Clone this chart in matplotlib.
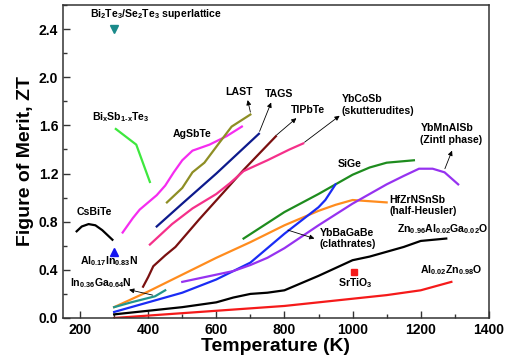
import matplotlib
matplotlib.use("Agg")
import matplotlib.pyplot as plt
from matplotlib.ticker import MultipleLocator

plt.rcParams['font.family'] = ['Liberation Sans', 'DejaVu Sans']
plt.rcParams['font.weight'] = 'bold'
plt.rcParams['mathtext.fontset'] = 'custom'
plt.rcParams['mathtext.rm'] = 'Liberation Sans:bold'
plt.rcParams['mathtext.it'] = 'Liberation Sans:bold'
plt.rcParams['mathtext.bf'] = 'Liberation Sans:bold'
plt.rcParams['mathtext.default'] = 'bf'

# ---- data (Temperature K, ZT) ----
bisbte_T = [305, 365, 405]
bisbte_ZT = [1.57, 1.44, 1.13]

csbite_T = [190, 205, 225, 245, 265, 280, 295]
csbite_ZT = [0.72, 0.76, 0.78, 0.77, 0.73, 0.69, 0.65]

agsbte_T = [325, 355, 375, 400, 425, 450, 475, 500, 530, 580, 630, 675]
agsbte_ZT = [0.71, 0.83, 0.90, 0.96, 1.02, 1.10, 1.21, 1.31, 1.39, 1.44, 1.51, 1.59]

last_T = [455, 500, 530, 565, 610, 645, 700]
last_ZT = [0.96, 1.08, 1.21, 1.29, 1.46, 1.59, 1.69]

tags_T = [425, 500, 600, 725]
tags_ZT = [0.76, 0.95, 1.20, 1.53]

tlpbte_T = [385, 400, 415, 450, 480, 550, 620, 680, 775]
tlpbte_ZT = [0.26, 0.34, 0.43, 0.52, 0.59, 0.82, 1.04, 1.23, 1.51]

ybcosb_T = [405, 470, 530, 600, 640, 680, 750, 815, 855]
ybcosb_ZT = [0.61, 0.78, 0.91, 1.03, 1.12, 1.22, 1.31, 1.40, 1.45]

sige_T = [680, 740, 800, 900, 950, 1000, 1050, 1100, 1180]
sige_ZT = [0.66, 0.77, 0.88, 1.03, 1.11, 1.19, 1.25, 1.29, 1.31]

zintl_T = [500, 550, 600, 650, 700, 750, 800, 900, 1000, 1100, 1150, 1195, 1235, 1270, 1310]
zintl_ZT = [0.30, 0.33, 0.36, 0.39, 0.44, 0.50, 0.58, 0.77, 0.95, 1.11, 1.18, 1.24, 1.24, 1.21, 1.11]

hh_T = [300, 400, 500, 600, 700, 800, 900, 950, 1000, 1050, 1100]
hh_ZT = [0.09, 0.22, 0.36, 0.50, 0.63, 0.77, 0.89, 0.94, 0.98, 0.97, 0.96]

clath_T = [300, 400, 500, 600, 700, 800, 900, 920, 950]
clath_ZT = [0.05, 0.13, 0.21, 0.32, 0.46, 0.70, 0.92, 0.98, 1.11]

ingan_T = [300, 350, 420, 450]
ingan_ZT = [0.09, 0.13, 0.18, 0.23]

znalga_T = [300, 400, 500, 600, 650, 700, 750, 800, 900, 1000, 1050, 1100, 1150, 1200, 1275]
znalga_ZT = [0.03, 0.06, 0.09, 0.13, 0.17, 0.20, 0.21, 0.23, 0.35, 0.48, 0.51, 0.55, 0.59, 0.64, 0.66]

alzno_T = [300, 400, 500, 600, 700, 800, 900, 1000, 1100, 1200, 1290]
alzno_ZT = [0.00, 0.02, 0.04, 0.06, 0.08, 0.10, 0.13, 0.16, 0.19, 0.23, 0.30]

superlattice_T = [300]
superlattice_ZT = [2.40]
alinn_T = [300]
alinn_ZT = [0.55]
srtio3_T = [1003]
srtio3_ZT = [0.38]

x_ticks = [200, 400, 600, 800, 1000, 1200, 1400]
y_ticks = [0.0, 0.4, 0.8, 1.2, 1.6, 2.0, 2.4]

fig = plt.figure(figsize=(5.05, 3.64), dpi=100)
ax = fig.add_axes([0.1248, 0.1264, 0.8432, 0.8599])

lw = 1.6
ax.plot(bisbte_T, bisbte_ZT, color='#3ee83e', lw=lw)
ax.plot(csbite_T, csbite_ZT, color='black', lw=lw)
ax.plot(agsbte_T, agsbte_ZT, color='#f52cf0', lw=lw)
ax.plot(last_T, last_ZT, color='#8e8e24', lw=lw)
ax.plot(tags_T, tags_ZT, color='#0d1a8c', lw=lw)
ax.plot(tlpbte_T, tlpbte_ZT, color='#7a1010', lw=lw)
ax.plot(ybcosb_T, ybcosb_ZT, color='#f5308a', lw=lw)
ax.plot(sige_T, sige_ZT, color='#1e8c1e', lw=lw)
ax.plot(hh_T, hh_ZT, color='#ff8c1e', lw=lw)
ax.plot(clath_T, clath_ZT, color='#1a2cf5', lw=lw)
ax.plot(zintl_T, zintl_ZT, color='#9632f0', lw=lw)
ax.plot(ingan_T, ingan_ZT, color='#22958c', lw=lw)
ax.plot(znalga_T, znalga_ZT, color='black', lw=lw)
ax.plot(alzno_T, alzno_ZT, color='#f51a1a', lw=lw)

ax.plot(superlattice_T, superlattice_ZT, marker='v', color='#1a8a8a', ms=6, ls='none')
ax.plot(alinn_T, alinn_ZT, marker='^', color='#1414f0', ms=6, ls='none')
ax.plot(srtio3_T, srtio3_ZT, marker='s', color='#f51a1a', ms=5, ls='none')

fs = 7.6
ax.text(229, 2.525, 'Bi$_2$Te$_3$/Se$_2$Te$_3$ superlattice', fontsize=fs, va='center', ha='left')
ax.text(236, 1.67, 'Bi$_x$Sb$_{1\\text{-}x}$Te$_3$', fontsize=fs, va='center', ha='left')
ax.text(529, 1.525, 'AgSbTe', fontsize=fs, va='center', ha='center')
ax.text(668, 1.88, 'LAST', fontsize=fs, va='center', ha='center')
ax.text(783, 1.86, 'TAGS', fontsize=fs, va='center', ha='center')
ax.text(870, 1.73, 'TlPbTe', fontsize=fs, va='center', ha='center')
ax.text(967, 1.77, 'YbCoSb\n(skutterudites)', fontsize=fs, va='center', ha='left', linespacing=1.2)
ax.text(1199, 1.53, 'YbMnAlSb\n(Zintl phase)', fontsize=fs, va='center', ha='left', linespacing=1.2)
ax.text(991, 1.28, 'SiGe', fontsize=fs, va='center', ha='center')
ax.text(1109, 0.935, 'HfZrNSnSb\n(half-Heusler)', fontsize=fs, va='center', ha='left', linespacing=1.2)
ax.text(903, 0.66, 'YbBaGaBe\n(clathrates)', fontsize=fs, va='center', ha='left', linespacing=1.2)
ax.text(1130, 0.74, 'Zn$_{0.96}$Al$_{0.02}$Ga$_{0.02}$O', fontsize=fs, va='center', ha='left')
ax.text(1197, 0.40, 'Al$_{0.02}$Zn$_{0.98}$O', fontsize=fs, va='center', ha='left')
ax.text(1007, 0.29, 'SrTiO$_3$', fontsize=fs, va='center', ha='center')
ax.text(242, 0.88, 'CsBiTe', fontsize=fs, va='center', ha='center')
ax.text(285, 0.47, 'Al$_{0.17}$In$_{0.83}$N', fontsize=fs, va='center', ha='center')
ax.text(261, 0.29, 'In$_{0.36}$Ga$_{0.64}$N', fontsize=fs, va='center', ha='center')

ap = dict(arrowstyle='-|>', lw=0.6, color='black', mutation_scale=7, shrinkA=0, shrinkB=0)
ax.annotate('', xy=(692, 1.81), xytext=(700, 1.71), arrowprops=ap)
ax.annotate('', xy=(761, 1.79), xytext=(727, 1.55), arrowprops=ap)
ax.annotate('', xy=(835, 1.66), xytext=(777, 1.52), arrowprops=ap)
ax.annotate('', xy=(962, 1.68), xytext=(859, 1.46), arrowprops=ap)
ax.annotate('', xy=(1292, 1.39), xytext=(1271, 1.24), arrowprops=ap)
ax.annotate('', xy=(888, 0.66), xytext=(810, 0.73), arrowprops=ap)
ax.annotate('', xy=(344, 0.235), xytext=(413, 0.19), arrowprops=ap)

ax.set_xlim(150, 1400)
ax.set_ylim(0, 2.6)
ax.set_xticks(x_ticks)
ax.set_yticks(y_ticks)
ax.set_yticklabels([f'{v:.1f}' for v in y_ticks])
ax.xaxis.set_minor_locator(MultipleLocator(100))
ax.yaxis.set_minor_locator(MultipleLocator(0.2))
ax.tick_params(which='both', direction='in', top=False, right=False, labelsize=10, width=1.0, color='#333333')
ax.tick_params(which='major', length=5)
ax.tick_params(which='minor', length=3)
for lab in ax.get_xticklabels() + ax.get_yticklabels():
    lab.set_fontweight('bold')
for s in ax.spines.values():
    s.set_linewidth(1.1)
    s.set_color('#333333')

ax.set_xlabel('Temperature (K)', fontsize=14, fontweight='bold', labelpad=1)
ax.set_ylabel('Figure of Merit, ZT', fontsize=14, fontweight='bold', labelpad=3)

fig.savefig('out.png', dpi=100)
